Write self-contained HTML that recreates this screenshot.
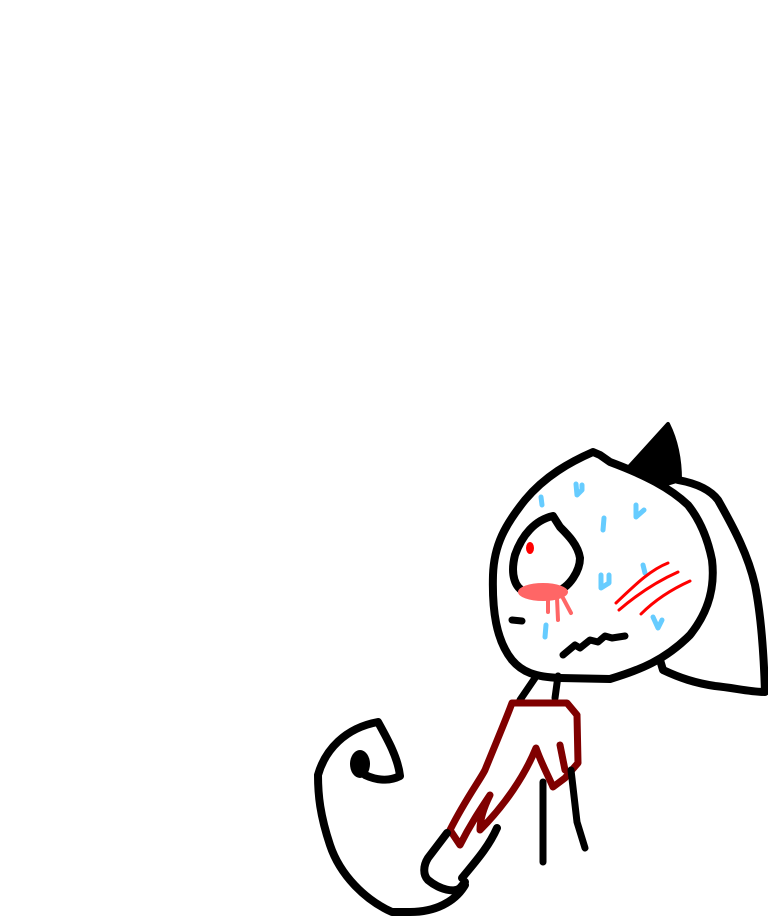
<!DOCTYPE html>
<html><head><style>html,body{margin:0;padding:0;background:#fff}svg{display:block}</style></head>
<body>
<svg width="768" height="916" viewBox="0 0 768 916" xmlns="http://www.w3.org/2000/svg">
<g fill="none" stroke-linecap="round" stroke-linejoin="round">
<path d="M678,480 C700,484 712,492 718,500 C735,530 748,555 755,585 C762,620 764,660 765,692 C750,692 735,688 715,686 C695,683 680,678 663,670 L660,660" stroke="#000" stroke-width="8"/>
<path d="M593,452 C570,462 545,476 525,500 C505,525 494,545 493,575 C492,610 496,640 512,660 C522,672 535,677 560,678 L610,679 C640,670 665,660 690,635 C710,610 715,585 712,560 C708,540 700,520 688,505 C670,488 645,475 610,462 L600,455 Z" stroke="#000" stroke-width="8"/>
<path d="M628,468 L668,424 C676,440 680,460 680,480 L660,486 Z" fill="#000" stroke="#000" stroke-width="4"/>
<path d="M553,516 C535,520 522,535 515,555 C510,575 515,588 525,592 L555,592 C570,588 580,570 580,558 C578,545 568,535 560,527 Z" stroke="#000" stroke-width="8"/>
<ellipse cx="530" cy="548" rx="4" ry="6" fill="#f00" stroke="none"/>
<ellipse cx="543" cy="592" rx="25" ry="9" fill="#ff6666" stroke="none"/>
<path d="M548,598 L548,612 M557,598 L558,620 M563,598 L571,613" stroke="#ff6666" stroke-width="4"/>
<path d="M512,620 L522,621" stroke="#000" stroke-width="7"/>
<path d="M563,655 L575,645 L580,648 L590,640 L598,642 L605,636 L612,638 L625,636" stroke="#000" stroke-width="7"/>
<g stroke="#66ccff" stroke-width="5">
<path d="M541,497 L542,505"/>
<path d="M576,484 L577,495 L582,490 L582,485"/>
<path d="M604,518 L603,530"/>
<path d="M636,505 L636,517 L644,510"/>
<path d="M601,575 L601,588 L609,583 L609,575"/>
<path d="M643,565 L645,573"/>
<path d="M653,617 L658,628 L662,620"/>
<path d="M546,625 L545,637"/>
</g>
<path d="M616,603 C635,585 650,570 668,563 M619,610 C640,592 660,580 678,572 M641,614 C655,600 670,590 690,581" stroke="#f00" stroke-width="3"/>
<path d="M520,700 L535,678 M555,698 L558,676" stroke="#000" stroke-width="7"/>
<path d="M512,703 L567,703 L577,715 L578,763 L565,778 L553,787 C548,775 542,765 536,748 C525,775 505,805 480,830 C480,818 485,805 490,795 C480,810 470,825 460,845 L450,830 C465,800 480,780 485,770 C495,745 505,722 512,703 Z" stroke="#800000" stroke-width="7"/>
<path d="M560,745 L565,770" stroke="#800000" stroke-width="7"/>
<path d="M447,833 L428,858 C423,866 423,875 428,880 C440,890 455,893 460,888 L465,882 M497,828 C488,848 475,862 462,878" stroke="#000" stroke-width="8"/>
<path d="M543,782 L543,862 M571,770 L577,822 L585,848" stroke="#000" stroke-width="7"/>
<path d="M465,885 C455,902 435,912 410,912 L392,912 C365,900 340,875 330,845 C320,815 318,795 318,775 C325,750 345,728 378,722 C388,740 398,758 400,776 C392,780 380,782 365,775" stroke="#000" stroke-width="8"/>
<ellipse cx="360" cy="764" rx="10" ry="14" fill="#000" stroke="none"/>
</g>
</svg>
</body></html>
